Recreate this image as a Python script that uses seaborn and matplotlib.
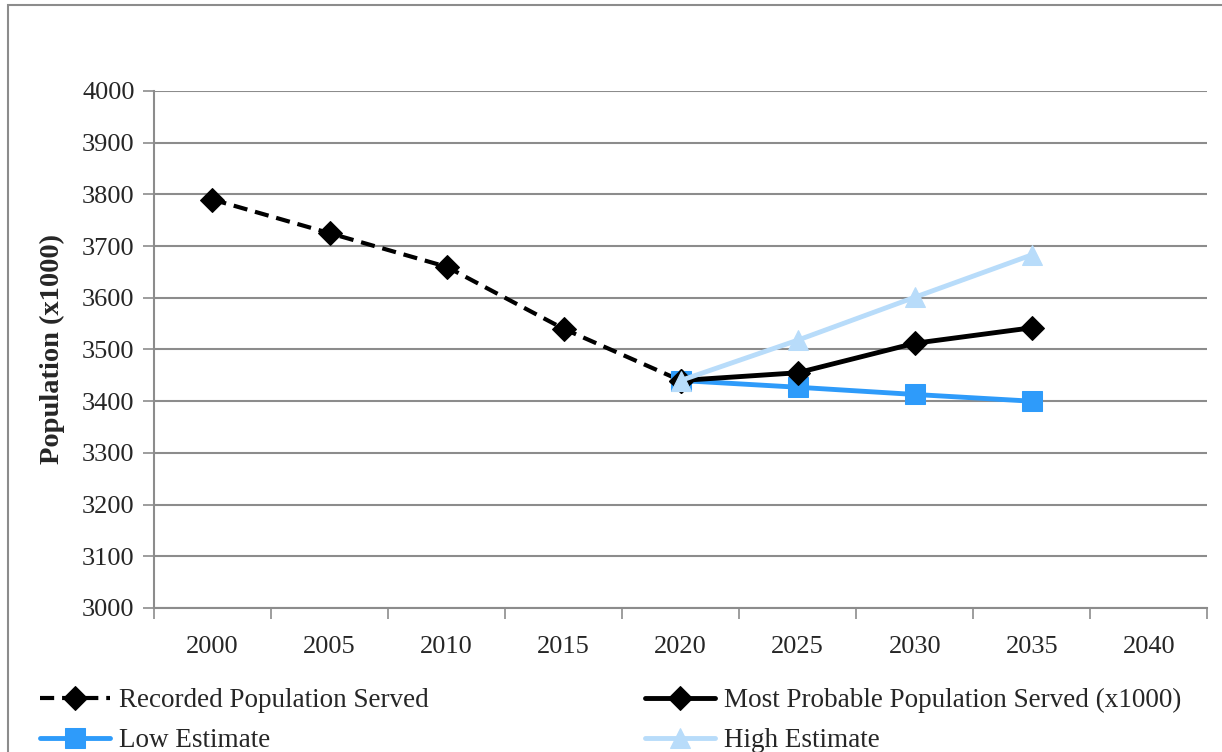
import numpy as np
import pandas as pd
import seaborn as sns
import matplotlib.pyplot as plt
from matplotlib.patches import Rectangle

sns.set_style('white')
plt.rcParams['font.family'] = ['Liberation Serif', 'DejaVu Serif']

years = [2000, 2005, 2010, 2015, 2020, 2025, 2030, 2035, 2040]
rec_years = [2000, 2005, 2010, 2015, 2020]
rec_pop = [3790, 3725, 3660, 3540, 3440]
proj_years = [2020, 2025, 2030, 2035]
probable = [3440, 3455, 3512, 3542]
low_est = [3440, 3427, 3413, 3400]
high_est = [3440, 3518, 3601, 3683]

fig = plt.figure(figsize=(12.22, 7.52), dpi=100)
ax = fig.add_axes([0.126, 0.1915, 0.862, 0.6875])

# outer chart frame (Excel style)
fig.patches.append(Rectangle((8/1222, -0.1), 1.2, 1 - 5/752 + 0.1, transform=fig.transFigure,
                             fill=False, edgecolor='#8c8c8c', linewidth=1.5))

sns.lineplot(x=rec_years, y=rec_pop, ax=ax, color='black', linewidth=3,
             linestyle=(0, (3.4, 1.9)), marker='D', markersize=12,
             markeredgecolor='black', label='Recorded Population Served')
sns.lineplot(x=proj_years, y=low_est, ax=ax, color='#2E9BFA', linewidth=3.5,
             marker='s', markersize=14, markeredgecolor='#2E9BFA', label='Low Estimate')
sns.lineplot(x=proj_years, y=probable, ax=ax, color='black', linewidth=3.5,
             marker='D', markersize=12, markeredgecolor='black',
             label='Most Probable Population Served (x1000)')
sns.lineplot(x=proj_years, y=high_est, ax=ax, color='#B8DCFA', linewidth=3.5,
             marker='^', markersize=15, markeredgecolor='#B8DCFA', label='High Estimate')

ax.set_xlim(1997.5, 2042.5)
ax.set_ylim(3000, 4000)
ax.set_yticks(np.arange(3000, 4001, 100))
ax.set_xticks(years)
ax.set_xticks(np.arange(1997.5, 2043, 5), minor=True)
ax.tick_params(axis='x', which='major', length=0, pad=20, labelsize=19)
ax.tick_params(axis='x', which='minor', length=8, width=1.2, color='#8c8c8c', direction='out')
ax.tick_params(axis='y', length=8, width=1.2, color='#8c8c8c', direction='out', pad=6, labelsize=19)
ax.xaxis.set_ticks_position('bottom')
ax.yaxis.set_ticks_position('left')
ax.grid(axis='y', color='#8c8c8c', linewidth=1.5)
ax.set_axisbelow(True)
for s in ['top', 'right']:
    ax.spines[s].set_visible(False)
for s in ['left', 'bottom']:
    ax.spines[s].set_color('#8c8c8c')
    ax.spines[s].set_linewidth(1.5)

ax.set_xlabel('')
ax.set_ylabel('Population (x1000)', fontsize=20.5, fontweight='bold', labelpad=12)

handles, labels = ax.get_legend_handles_labels()
ax.legend(handles, labels, ncol=2, loc='upper left', bbox_to_anchor=(40/1222, 1 - 688/752),
          bbox_transform=fig.transFigure, frameon=False, fontsize=19.5,
          handlelength=2.6, handletextpad=0.3, columnspacing=8.0, labelspacing=0.55,
          borderaxespad=0, borderpad=0)

fig.savefig('out.png', dpi=100)
